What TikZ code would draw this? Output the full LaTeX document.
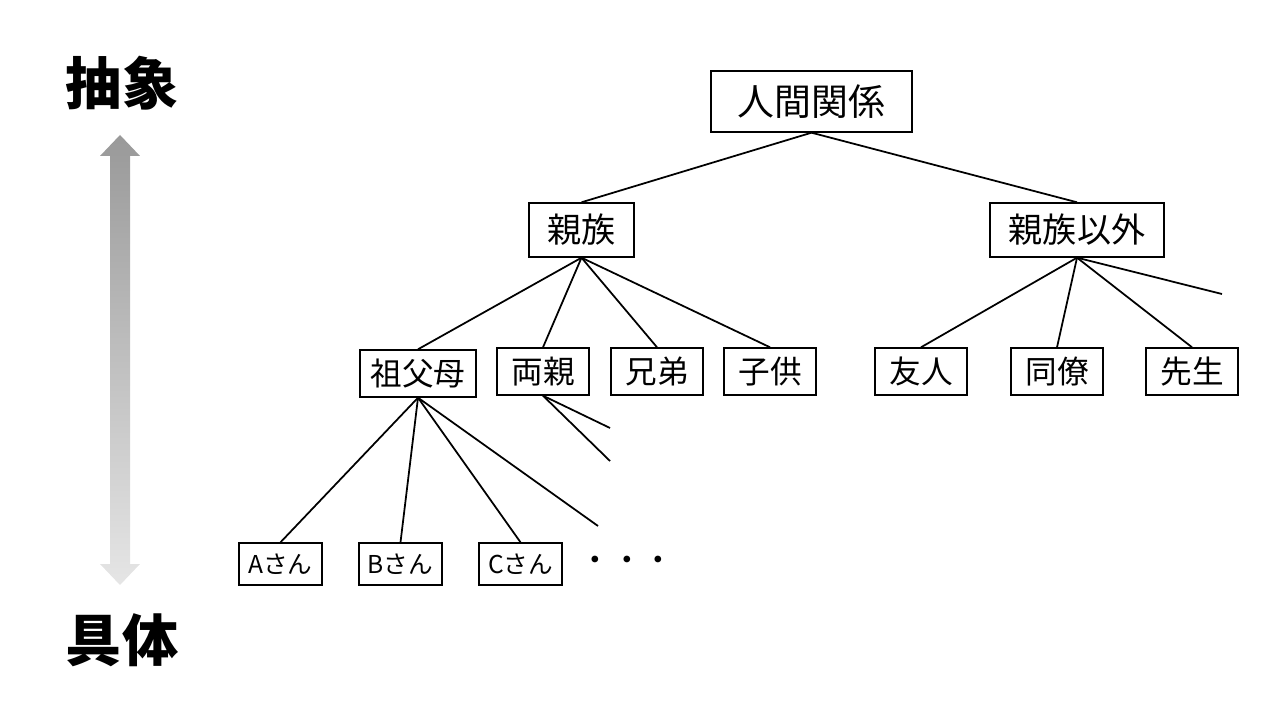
\documentclass[tikz,border=0pt]{standalone}
\usepackage{fontspec}
\setmainfont{Noto Sans CJK JP}
\usetikzlibrary{shapes.arrows}
\tikzstyle{box}=[draw,fill=white,inner sep=0pt,font=\fontsize{9pt}{9pt}\selectfont]
\tikzstyle{topbox}=[box,minimum width=2.01cm,minimum height=0.61cm,font=\fontsize{10.5pt}{10.5pt}\selectfont]
\tikzstyle{midbox}=[box,minimum width=1.05cm,minimum height=0.54cm,font=\fontsize{9.7pt}{9.7pt}\selectfont]
\tikzstyle{lowbox}=[box,minimum width=0.92cm,minimum height=0.47cm,font=\fontsize{9pt}{9pt}\selectfont]
\tikzstyle{leaf}=[box,minimum width=0.83cm,minimum height=0.42cm,font=\fontsize{7pt}{7pt}\selectfont]
\tikzstyle{edge}=[draw,line width=0.5pt]
\tikzstyle{side}=[font=\fontsize{16pt}{16pt}\selectfont\bfseries]

\begin{document}
\begin{tikzpicture}
    \useasboundingbox (0,0) rectangle (12.8,-7.2);

    % axis on the left
    \shade[top color=black!40, bottom color=black!10]
        (1.2,-1.35) -- (1.4,-1.56) -- (1.3,-1.56) -- (1.3,-5.64) -- (1.4,-5.64)
        -- (1.2,-5.85) -- (1.0,-5.64) -- (1.1,-5.64) -- (1.1,-1.56) -- (1.0,-1.56) -- cycle;
    \node[side] (abs) at (1.22,-0.83) {抽象};
    \node[side] (con) at (1.22,-6.4) {具体};

    % tree
    \node[topbox] (root) at (8.115,-1.015) {人間関係};
    \node[midbox] (kin) at (5.815,-2.30) {親族};
    \node[midbox,minimum width=1.74cm] (nonkin) at (10.77,-2.30) {親族以外};

    \node[lowbox,minimum width=1.16cm] (gp) at (4.18,-3.735) {祖父母};
    \foreach \pos/\name/\txt in {{(5.43,-3.715)/par/両親}, {(6.57,-3.715)/sib/兄弟},
            {(7.70,-3.715)/chi/子供}, {(9.21,-3.715)/fri/友人},
            {(10.57,-3.715)/col/同僚}, {(11.92,-3.715)/tea/先生}}
        \node[lowbox] (\name) at \pos {\txt};

    \foreach \pos/\name/\txt in {{(2.805,-5.64)/a/Aさん}, {(4.005,-5.64)/b/Bさん}, {(5.205,-5.64)/c/Cさん}}
        \node[leaf] (\name) at \pos {\txt};
    \node[font=\fontsize{9pt}{9pt}\selectfont] (dots) at (6.27,-5.64) {・・・};

    \coordinate (nk4) at (12.22,-2.94);
    \coordinate (gp4) at (5.98,-5.26);
    \coordinate (par1) at (6.10,-4.28);
    \coordinate (par2) at (6.10,-4.61);

    \foreach \source/\dest in {root/kin, root/nonkin}
        \path[edge] (\source.south) -- (\dest.north);
    \foreach \dest in {gp, par, sib, chi}
        \path[edge] (kin.south) -- (\dest.north);
    \foreach \dest in {fri, col, tea}
        \path[edge] (nonkin.south) -- (\dest.north);
    \path[edge] (nonkin.south) -- (nk4);
    \foreach \dest in {a, b, c}
        \path[edge] (gp.south) -- (\dest.north);
    \path[edge] (gp.south) -- (gp4);
    \path[edge] (par.south) -- (par1);
    \path[edge] (par.south) -- (par2);
\end{tikzpicture}
\end{document}
